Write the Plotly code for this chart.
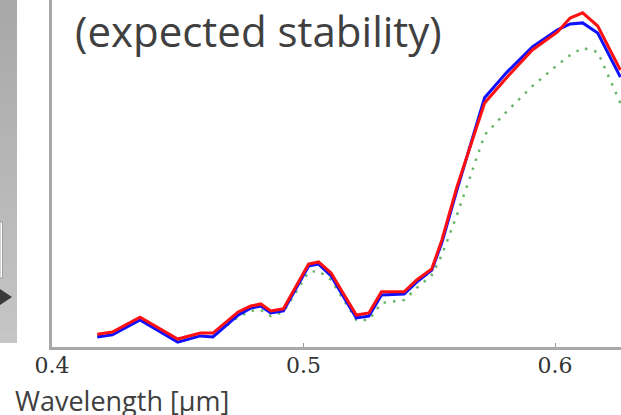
import plotly.graph_objects as go

# ---- data ----
wavelength_um = [0.418, 0.424, 0.435, 0.450, 0.459, 0.464, 0.474, 0.479, 0.483, 0.487,
                 0.492, 0.495, 0.502, 0.506, 0.511, 0.515, 0.521, 0.526, 0.531, 0.540,
                 0.545, 0.551, 0.555, 0.561, 0.572, 0.581, 0.591, 0.601, 0.606, 0.611,
                 0.617, 0.626]
red_series = [0.037, 0.043, 0.086, 0.023, 0.040, 0.040, 0.101, 0.118, 0.124, 0.104,
              0.110, 0.150, 0.239, 0.245, 0.213, 0.164, 0.092, 0.098, 0.159, 0.159,
              0.193, 0.225, 0.308, 0.461, 0.703, 0.778, 0.856, 0.908, 0.948, 0.963,
              0.925, 0.798]
blue_series = [0.029, 0.035, 0.078, 0.014, 0.032, 0.029, 0.092, 0.112, 0.118, 0.098,
               0.104, 0.144, 0.233, 0.239, 0.205, 0.156, 0.084, 0.089, 0.150, 0.153,
               0.187, 0.222, 0.300, 0.452, 0.718, 0.793, 0.865, 0.914, 0.931, 0.934,
               0.905, 0.778]
green_series = [0.032, 0.037, 0.078, 0.020, 0.032, 0.032, 0.086, 0.104, 0.107, 0.089,
                0.101, 0.135, 0.216, 0.219, 0.193, 0.147, 0.078, 0.078, 0.127, 0.135,
                0.170, 0.207, 0.265, 0.380, 0.611, 0.680, 0.752, 0.813, 0.841, 0.862,
                0.850, 0.703]
x_tick_values = [0.4, 0.5, 0.6]
x_tick_labels = ["0.4", "0.5", "0.6"]
title_text = "(expected stability)"
x_label_text = "Wavelength [µm]"

W, H = 621, 415
ML, MR, MT, MB = 52, 0, 0, 68
PW, PH = W - ML - MR, H - MT - MB


def px(xpix):
    return (xpix - ML) / PW


def py(ypix):
    return (H - MB - ypix) / PH


fig = go.Figure()
fig.add_trace(go.Scatter(x=wavelength_um, y=green_series, mode="lines",
                         line=dict(color="rgba(40,150,40,0.7)", width=2.5, dash="2.5px,7px")))
fig.add_trace(go.Scatter(x=wavelength_um, y=blue_series, mode="lines",
                         line=dict(color="#1010ff", width=3)))
fig.add_trace(go.Scatter(x=wavelength_um, y=red_series, mode="lines",
                         line=dict(color="#ff1010", width=3)))

shapes = []
# grey gradient side panel (slide decoration)
n = 30
top_y, bot_y = 0, 343
for i in range(n):
    y0 = top_y + (bot_y - top_y) * i / n
    y1 = min(bot_y, top_y + (bot_y - top_y) * (i + 1) / n + 1)
    g = int(168 + (198 - 168) * i / (n - 1))
    shapes.append(dict(type="rect", xref="paper", yref="paper",
                       x0=px(0), x1=px(17), y0=py(y1), y1=py(y0),
                       fillcolor=f"rgb({g},{g},{g})", line=dict(width=0), layer="below"))
shapes.append(dict(type="rect", xref="paper", yref="paper",
                   x0=px(0), x1=px(2.5), y0=py(278), y1=py(222),
                   fillcolor="white", line=dict(width=0.6, color="#777")))
shapes.append(dict(type="path", xref="paper", yref="paper",
                   path=f"M {px(0)},{py(289)} L {px(12)},{py(297)} L {px(0)},{py(305)} Z",
                   fillcolor="#3a3a3a", line=dict(width=0)))

fig.update_layout(
    width=W, height=H,
    margin=dict(l=ML, r=MR, t=MT, b=MB, pad=0),
    paper_bgcolor="white", plot_bgcolor="white",
    showlegend=False,
    shapes=shapes,
    xaxis=dict(range=[0.4, 0.4 + 0.1 * PW / 251.5], showgrid=False, zeroline=False,
               showline=True, linecolor="#a8a8a8", linewidth=2.5,
               tickvals=x_tick_values, ticktext=x_tick_labels,
               ticks="inside", ticklen=4, tickcolor="#999", tickwidth=1,
               tickfont=dict(family="DejaVu Serif", size=22, color="#333"),
               ticklabelstandoff=-3),
    yaxis=dict(range=[0, 1], showgrid=False, zeroline=False,
               showline=True, linecolor="#a8a8a8", linewidth=2.5,
               showticklabels=False, ticks=""),
    annotations=[
        dict(text=title_text, xref="paper", yref="paper", x=px(73), y=py(0),
             xanchor="left", yanchor="top", showarrow=False,
             font=dict(family="Open Sans", size=42, color="#404040")),
        dict(text=x_label_text, xref="paper", yref="paper", x=px(13), y=py(421),
             xanchor="left", yanchor="bottom", showarrow=False,
             font=dict(family="Open Sans", size=27, color="#404040")),
    ],
)

fig.write_html("out.html", config={"displayModeBar": False},
               post_script="document.body.style.margin='0px';document.body.style.padding='0px';")
